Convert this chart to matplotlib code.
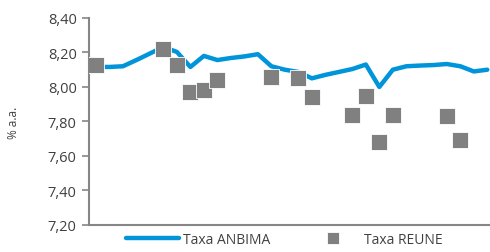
import matplotlib
matplotlib.use("Agg")
import matplotlib.pyplot as plt
import numpy as np

# daily index positions (no x labels shown)
idx = list(range(30))
anbima = [8.116, 8.116, 8.12, 8.156, 8.194, 8.232, 8.203, 8.116, 8.18, 8.156,
          8.168, 8.177, 8.19, 8.12, 8.10, 8.087, 8.05, 8.07, 8.087, 8.104,
          8.13, 8.00, 8.10, 8.12, 8.124, 8.127, 8.133, 8.12, 8.09, 8.10]
reune_idx = [0, 5, 6, 7, 8, 9, 13, 15, 16, 19, 20, 21, 22, 26, 27]
reune = [8.127, 8.22, 8.13, 7.97, 7.98, 8.04, 8.06, 8.05, 7.94, 7.84,
         7.95, 7.68, 7.84, 7.83, 7.69]
yticks = [7.20, 7.40, 7.60, 7.80, 8.00, 8.20, 8.40]

plt.rcParams['font.family'] = ['Open Sans', 'DejaVu Sans']

fig = plt.figure(figsize=(4.9, 2.53), dpi=100)
ax = fig.add_axes([0.182, 0.107, 0.818, 0.818])

ax.plot(idx, anbima, color='#0095DA', lw=3.2, solid_capstyle='round',
        label='Taxa ANBIMA', zorder=2)
ax.plot(reune_idx, reune, ls='none', marker='s', ms=12, color='#808080',
        mec='white', mew=0.6, label='Taxa REUNE', zorder=3)

ax.set_xlim(-0.5, 29.2)
ax.set_ylim(7.2, 8.4)
ax.set_yticks(yticks)
ax.set_yticklabels([('%.2f' % v).replace('.', ',') for v in yticks],
                   fontsize=10.5, color='#404040')
ax.set_xticks([])
ax.tick_params(axis='y', direction='out', length=5, width=1.2, color='#868686', pad=4)
for s in ['top', 'right']:
    ax.spines[s].set_visible(False)
for s in ['left', 'bottom']:
    ax.spines[s].set_color('#868686')
    ax.spines[s].set_linewidth(1.5)
ax.set_ylabel('% a.a.', fontsize=8.5, color='#404040', labelpad=20)

leg = fig.legend(loc='lower center', bbox_to_anchor=(0.58, -0.03), ncol=2,
                 frameon=False, fontsize=10, handlelength=3.8, markerscale=0.75,
                 columnspacing=2.6, handletextpad=0.3)
for t in leg.get_texts():
    t.set_color('#404040')

fig.savefig('out.png', dpi=100)
